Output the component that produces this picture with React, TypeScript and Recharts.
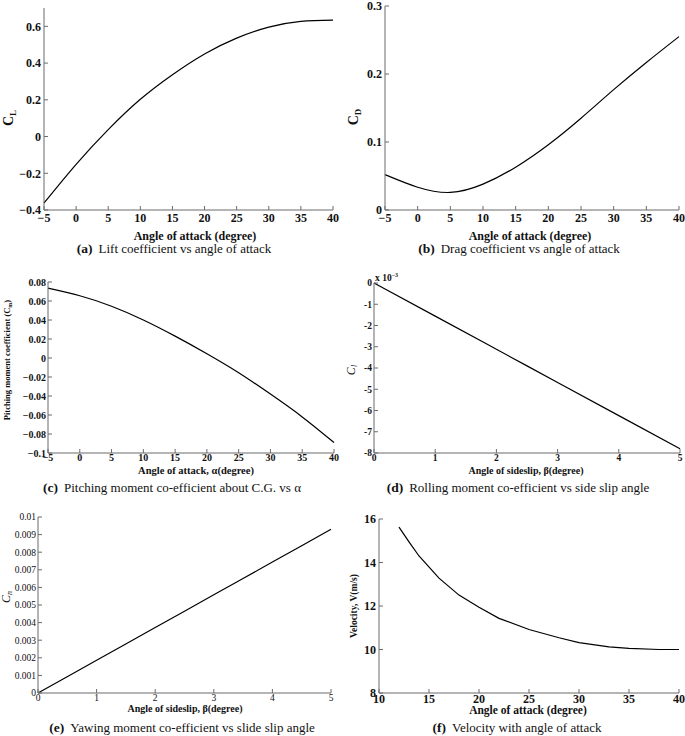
import React from "react";
import { LineChart, Line, XAxis, YAxis } from "recharts";

// Aircraft aerodynamic coefficient plots (six panels)

const alphaAB = [-5, 0, 5, 10, 15, 20, 25, 30, 35, 40];
const liftCoeff = [-0.362, -0.151, 0.038, 0.203, 0.337, 0.45, 0.536, 0.596, 0.627, 0.634];
const dragCoeff = [0.052, 0.0335, 0.0258, 0.038, 0.063, 0.096, 0.135, 0.177, 0.217, 0.255];
const pitchCoeff = [0.0735, 0.0655, 0.0545, 0.04, 0.023, 0.0045, -0.0155, -0.038, -0.062, -0.089];

const beta = [0, 1, 2, 3, 4, 5];
const rollCoeff = [0, -0.00156, -0.00312, -0.00468, -0.00624, -0.0078];
const yawCoeff = [0, 0.00186, 0.00372, 0.00558, 0.00744, 0.0093];

const alphaF = [12, 13, 14, 16, 18, 20, 22, 25, 28, 30, 33, 35, 38, 40];
const velocity = [15.63, 14.95, 14.3, 13.28, 12.5, 11.94, 11.43, 10.92, 10.54, 10.32, 10.12, 10.05, 10.0, 10.0];

const alphaTicks = [-5, 0, 5, 10, 15, 20, 25, 30, 35, 40];
const liftTicks = [-0.4, -0.2, 0, 0.2, 0.4, 0.6];
const dragTicks = [0, 0.1, 0.2, 0.3];
const pitchTicks = [-0.1, -0.08, -0.06, -0.04, -0.02, 0, 0.02, 0.04, 0.06, 0.08];
const betaTicks = [0, 1, 2, 3, 4, 5];
const rollTicks = [-0.008, -0.007, -0.006, -0.005, -0.004, -0.003, -0.002, -0.001, 0];
const yawTicks = [0, 0.001, 0.002, 0.003, 0.004, 0.005, 0.006, 0.007, 0.008, 0.009, 0.01];
const velTicksX = [10, 15, 20, 25, 30, 35, 40];
const velTicksY = [8, 10, 12, 14, 16];

const zip = (xs: number[], ys: number[]) => xs.map((x, i) => ({ x, y: ys[i] }));

const SERIF = "Liberation Serif";
const BOX = "#6b6b6b";

const minus = (s: string) => s.replace("-", "\u2212");

type Box = { l: number; t: number; r: number; b: number };

interface PanelProps {
  box: Box;
  data: { x: number; y: number }[];
  xDomain: [number, number];
  xTicks: number[];
  yDomain: [number, number];
  yTicks: number[];
  fontSize: number;
  bold: boolean;
  yFmt: (v: number) => string;
  curve?: "natural" | "linear";
  yMargin?: number;
  xMargin?: number;
}

function Panel({ box, data, xDomain, xTicks, yDomain, yTicks, fontSize, bold, yFmt, curve = "natural", yMargin = 7, xMargin = 7 }: PanelProps) {
  const yW = 60;
  const pad = 8;
  const xH = 22;
  const w = box.r - box.l + yW + pad;
  const h = box.b - box.t + pad + xH;
  const tickStyle = { fill: "#111", fontSize, fontFamily: SERIF, fontWeight: bold ? 700 : 400 };
  const noLabel = () => <g />;
  return (
    <div style={{ position: "absolute", left: box.l - yW, top: box.t - pad }}>
      <LineChart width={w} height={h} data={data} margin={{ top: pad, right: pad, left: 0, bottom: 0 }}>
        <XAxis
          dataKey="x"
          type="number"
          domain={xDomain}
          ticks={xTicks}
          interval={0}
          height={xH}
          tickSize={-4}
          tickMargin={xMargin}
          stroke={BOX}
          tick={tickStyle}
          tickFormatter={(v: number) => minus(String(v))}
        />
        <XAxis
          xAxisId="top"
          orientation="top"
          dataKey="x"
          type="number"
          domain={xDomain}
          ticks={xTicks}
          interval={0}
          height={0}
          tickSize={-4}
          stroke={BOX}
          tick={noLabel}
        />
        <YAxis
          type="number"
          domain={yDomain}
          ticks={yTicks}
          interval={0}
          width={yW}
          tickSize={-4}
          tickMargin={yMargin}
          stroke={BOX}
          tick={tickStyle}
          tickFormatter={yFmt}
        />
        <YAxis
          yAxisId="right"
          orientation="right"
          type="number"
          domain={yDomain}
          ticks={yTicks}
          interval={0}
          width={0}
          tickSize={-4}
          stroke={BOX}
          tick={noLabel}
        />
        <Line
          type={curve}
          dataKey="y"
          stroke="#000"
          strokeWidth={1.2}
          dot={false}
          isAnimationActive={false}
        />
      </LineChart>
    </div>
  );
}

function Caption({ x, y, tag, text }: { x: number; y: number; tag: string; text: string }) {
  return (
    <text x={x} y={y} textAnchor="middle" fontFamily={SERIF} fontSize={13} fill="#111">
      <tspan fontWeight={700} fontSize={13.5}>{tag}</tspan>
      <tspan dx={6}>{text}</tspan>
    </text>
  );
}

function VTitle({ x, y, size, children, bold = true, italic = false }: { x: number; y: number; size: number; children: React.ReactNode; bold?: boolean; italic?: boolean }) {
  return (
    <text
      x={x}
      y={y}
      transform={`rotate(-90 ${x} ${y})`}
      textAnchor="middle"
      dominantBaseline="middle"
      fontFamily={SERIF}
      fontSize={size}
      fontWeight={bold ? 700 : 400}
      fontStyle={italic ? "italic" : "normal"}
      fill="#111"
    >
      {children}
    </text>
  );
}

function HTitle({ x, y, size, children }: { x: number; y: number; size: number; children: React.ReactNode }) {
  return (
    <text x={x} y={y} textAnchor="middle" fontFamily={SERIF} fontSize={size} fontWeight={700} fill="#111">
      {children}
    </text>
  );
}

export default function App() {
  const fmt1 = (v: number) => (v === 0 ? "0" : minus(v.toFixed(1)));
  return (
    <div style={{ position: "absolute", left: 0, top: 0, width: 685, height: 736, background: "#fff" }}>
      <Panel box={{ l: 44, t: 8, r: 333, b: 210 }} data={zip(alphaAB, liftCoeff)} xDomain={[-5, 40]} xTicks={alphaTicks}
        yDomain={[-0.4, 0.7]} yTicks={liftTicks} fontSize={12} bold yFmt={fmt1} />
      <Panel box={{ l: 385, t: 6, r: 679, b: 210 }} data={zip(alphaAB, dragCoeff)} xDomain={[-5, 40]} xTicks={alphaTicks}
        yDomain={[0, 0.3]} yTicks={dragTicks} fontSize={12} bold yFmt={fmt1} />
      <Panel box={{ l: 48, t: 282, r: 334, b: 453 }} data={zip(alphaAB, pitchCoeff)} xDomain={[-5, 40]} xTicks={alphaTicks}
        yDomain={[-0.1, 0.08]} yTicks={pitchTicks} fontSize={10} bold yMargin={6} xMargin={5}
        yFmt={(v) => (Math.abs(v) < 1e-9 ? "0" : minus(String(Math.round(v * 100) / 100)))} />
      <Panel box={{ l: 374, t: 283, r: 680, b: 453 }} data={zip(beta, rollCoeff)} xDomain={[0, 5]} xTicks={betaTicks}
        yDomain={[-0.008, 0]} yTicks={rollTicks} fontSize={9.5} bold yMargin={6} xMargin={5}
        yFmt={(v) => String(Math.round(v * 1000))} />
      <Panel box={{ l: 38, t: 517, r: 331, b: 693 }} data={zip(beta, yawCoeff)} xDomain={[0, 5]} xTicks={betaTicks}
        yDomain={[0, 0.01]} yTicks={yawTicks} fontSize={9.5} bold={false} yMargin={6} xMargin={5}
        yFmt={(v) => (v === 0 ? "0" : String(Math.round(v * 1000) / 1000))} />
      <Panel box={{ l: 379, t: 519, r: 679, b: 693 }} data={zip(alphaF, velocity)} xDomain={[10, 40]} xTicks={velTicksX}
        yDomain={[8, 16]} yTicks={velTicksY} fontSize={12} bold curve="linear" xMargin={5} yFmt={(v) => String(v)} />

      <svg width={685} height={736} style={{ position: "absolute", left: 0, top: 0, pointerEvents: "none" }}>
        {/* axis titles */}
        <VTitle x={10} y={118} size={14}>
          C<tspan fontSize={9} dy={4}>L</tspan>
        </VTitle>
        <VTitle x={355} y={117} size={14}>
          C<tspan fontSize={9} dy={4}>D</tspan>
        </VTitle>
        <VTitle x={8} y={360} size={8.5}>
          Pitching moment coefficient (C<tspan fontSize={6} dy={3}>m</tspan><tspan dy={-3}>)</tspan>
        </VTitle>
        <VTitle x={352} y={370} size={12} bold={false} italic>
          C<tspan fontSize={8} dy={3}>l</tspan>
        </VTitle>
        <VTitle x={7} y={597} size={12} bold={false} italic>
          C<tspan fontSize={8} dy={3}>n</tspan>
        </VTitle>
        <VTitle x={355} y={606} size={9.5}>Velocity, V(m/s)</VTitle>

        <HTitle x={195} y={240} size={12}>Angle of attack (degree)</HTitle>
        <HTitle x={530} y={240} size={12}>Angle of attack (degree)</HTitle>
        <HTitle x={196} y={474} size={10.5}>Angle of attack, α(degree)</HTitle>
        <HTitle x={526} y={474} size={10}>Angle of sideslip, β(degree)</HTitle>
        <HTitle x={185} y={712} size={10}>Angle of sideslip, β(degree)</HTitle>
        <HTitle x={528} y={714} size={11.5}>Angle of attack (degree)</HTitle>

        <text x={375} y={281} fontFamily={SERIF} fontSize={9.5} fontWeight={700} fill="#111">
          x 10<tspan fontSize={6} dy={-4}>−3</tspan>
        </text>

        {/* captions */}
        <Caption x={174} y={253} tag="(a)" text="Lift coefficient vs angle of attack" />
        <Caption x={519} y={253} tag="(b)" text="Drag coefficient vs angle of attack" />
        <Caption x={172} y={492} tag="(c)" text="Pitching moment co-efficient about C.G. vs α" />
        <Caption x={518} y={492} tag="(d)" text="Rolling moment co-efficient vs side slip angle" />
        <Caption x={182} y={732} tag="(e)" text="Yawing moment co-efficient vs slide slip angle" />
        <Caption x={517} y={732} tag="(f)" text="Velocity with angle of attack" />
      </svg>
    </div>
  );
}
